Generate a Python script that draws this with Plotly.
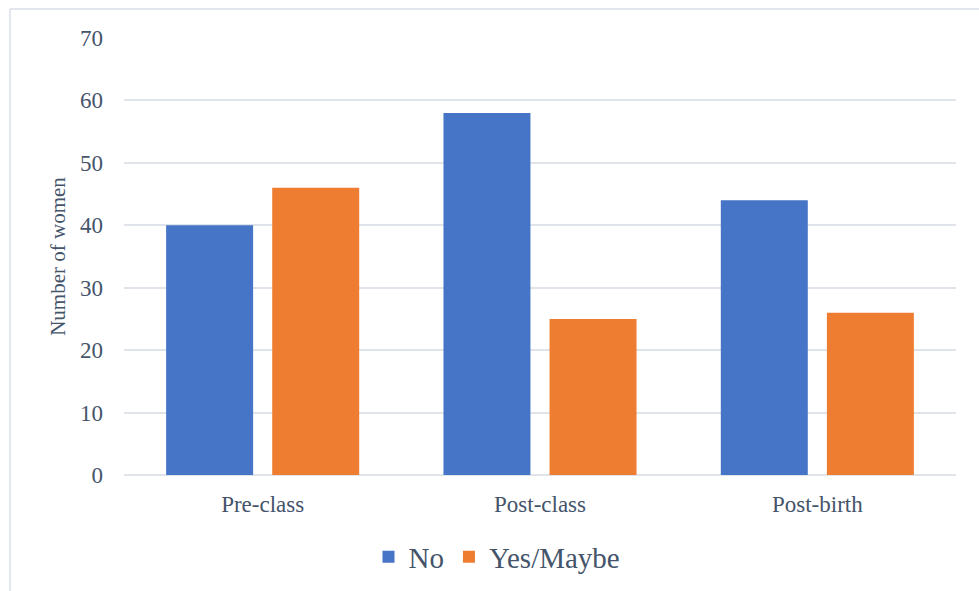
import plotly.graph_objects as go

categories = ["Pre-class", "Post-class", "Post-birth"]
no_values = [40, 58, 44]
yes_maybe_values = [46, 25, 26]
y_ticks = [0, 10, 20, 30, 40, 50, 60, 70]

FONT = "Liberation Serif, Times New Roman, serif"
TEXT = "#44546A"
GRID = "#DFE3EA"

fig = go.Figure()
fig.add_trace(go.Bar(name="No", x=categories, y=no_values,
                     marker=dict(color="#4674C6", line=dict(width=0))))
fig.add_trace(go.Bar(name="Yes/Maybe", x=categories, y=yes_maybe_values,
                     marker=dict(color="#EE7D31", line=dict(width=0))))

W, H = 979, 591
L, R, T, B = 124, 23, 38, 116
pw, ph = W - L - R, H - T - B

# chart-area outline (left and top edges visible)
bx = (10 - L) / pw
by = (H - B - 9) / ph
fig.add_shape(type="line", xref="paper", yref="paper", x0=bx, x1=1.2, y0=by, y1=by,
              line=dict(color="#D9DEE8", width=1.5), layer="below")
fig.add_shape(type="line", xref="paper", yref="paper", x0=bx, x1=bx, y0=by, y1=-0.4,
              line=dict(color="#D9DEE8", width=1.5), layer="below")

fig.update_layout(
    width=W, height=H,
    margin=dict(l=L, r=R, t=T, b=B, autoexpand=False),
    paper_bgcolor="white", plot_bgcolor="white",
    barmode="group", bargap=0.235, bargroupgap=0.18,
    font=dict(family=FONT, color=TEXT),
    showlegend=True,
    legend=dict(orientation="h", xref="container", yref="container",
                x=497 / W, xanchor="center",
                y=(H - 557) / H, yanchor="middle",
                font=dict(size=29, family=FONT, color=TEXT),
                itemwidth=30, tracegroupgap=0, bgcolor="rgba(0,0,0,0)"),
    xaxis=dict(showgrid=False, showline=False, ticks="",
               tickfont=dict(size=23, family=FONT, color=TEXT),
               ticklabelstandoff=13),
    yaxis=dict(range=[0, 70], tickvals=y_ticks, showgrid=True, gridcolor=GRID,
               gridwidth=2, zeroline=True, zerolinecolor=GRID, zerolinewidth=2,
               showline=False, ticks="",
               tickfont=dict(size=23, family=FONT, color=TEXT),
               ticklabelstandoff=20,
               title=dict(text="Number of women", standoff=8,
                          font=dict(size=21, family=FONT, color=TEXT))),
)

fig.write_html("out.html")
